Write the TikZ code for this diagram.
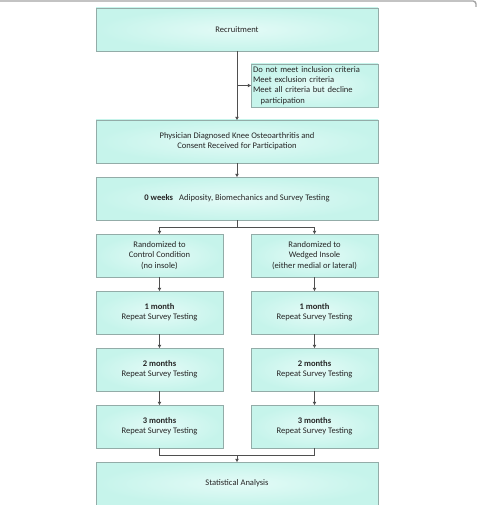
\documentclass[tikz,border=0pt]{standalone}
\usepackage{fontspec}
\setmainfont{Carlito}
\usetikzlibrary{arrows.meta,positioning,calc}
\definecolor{mint}{HTML}{C6F4EB}
\definecolor{glow}{HTML}{E4FBF7}
\definecolor{rim}{HTML}{93ACA8}
\definecolor{wire}{HTML}{4F4F4F}
\definecolor{frame}{HTML}{A3A3A3}
\definecolor{ink}{HTML}{262626}

\begin{document}
\begin{tikzpicture}[
  x=1bp,y=-1bp,
  font=\fontsize{8.6}{10.4}\selectfont,text=ink,
  box/.style={draw=rim,line width=0.8bp,inner color=glow,outer color=mint,
    minimum height=43bp,inner sep=2bp,outer sep=0pt,align=center},
  wide/.style={box,minimum width=282bp},
  half/.style={box,minimum width=127bp},
  >={Triangle[length=3.2bp,width=3.4bp]},
  flow/.style={draw=wire,line width=0.9bp}
]
\useasboundingbox (0,0) rectangle (477,505);
% frame edge
\draw[frame,line width=1.4bp,rounded corners=3bp] (0,1) -- (476,1) -- (476,7);
% trunk
\node[wide] (rec) at (237,29.5) {Recruitment};
\node[wide,below=69bp of rec] (dx)
  {Physician Diagnosed Knee Osteoarthritis and\\Consent Received for Participation};
\node[half,align=left,text width=123bp] (excl) at (314.5,85.5)
  {Do not meet inclusion criteria\\Meet exclusion criteria\\
   Meet all criteria but decline\\\hspace*{0.9em}participation};
\node[wide,below=14bp of dx] (base)
  {\textbf{0 weeks}\hspace{0.7em}Adiposity, Biomechanics and Survey Testing};
% two arms
\node[half,below=14bp of base,xshift=-77.5bp] (ctl)
  {Randomized to\\Control Condition\\(no insole)};
\node[half,below=14bp of base,xshift=77.5bp] (wdg)
  {Randomized to\\Wedged Insole\\(either medial or lateral)};
\node[half,below=14bp of ctl] (c1) {\textbf{1 month}\\Repeat Survey Testing};
\node[half,below=14bp of c1] (c2) {\textbf{2 months}\\Repeat Survey Testing};
\node[half,below=14bp of c2] (c3) {\textbf{3 months}\\Repeat Survey Testing};
\node[half,below=14bp of wdg] (w1) {\textbf{1 month}\\Repeat Survey Testing};
\node[half,below=14bp of w1] (w2) {\textbf{2 months}\\Repeat Survey Testing};
\node[half,below=14bp of w2] (w3) {\textbf{3 months}\\Repeat Survey Testing};
\node[wide,below=14bp of c3,xshift=77.5bp] (stat) {Statistical Analysis};
% connectors
\coordinate (tap) at (rec.south |- excl.west);
\draw[flow,->] (rec.south) -- (dx.north);
\draw[flow,->] (tap) -- (excl.west);
\draw[flow,->] (dx.south) -- (base.north);
\coordinate (fork) at ($(base.south)+(0,7)$);
\draw[flow] (base.south) -- (fork);
\draw[flow,->] (fork) -| (ctl.north);
\draw[flow,->] (fork) -| (wdg.north);
\foreach \a/\b in {ctl/c1,c1/c2,c2/c3,wdg/w1,w1/w2,w2/w3}{
  \draw[flow,->] (\a.south) -- (\b.north);
}
\coordinate (join) at ($(stat.north)+(0,-7)$);
\draw[flow] (c3.south) |- (join) -| (w3.south);
\draw[flow,->] (join) -- (stat.north);
\end{tikzpicture}
\end{document}
